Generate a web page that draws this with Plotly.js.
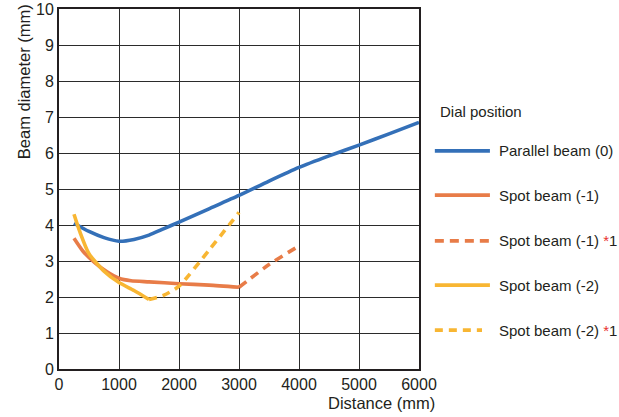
<!DOCTYPE html>
<html><head><meta charset="utf-8">
<script src="https://cdn.plot.ly/plotly-3.0.1.min.js"></script>
<style>body{margin:0;background:#fff}#c{width:619px;height:417px}</style>
</head><body><div id="c"></div>
<script>
const parallelX = [250, 500, 750, 1000, 1250, 1500, 1750, 2000, 2500, 3000, 3500, 4000, 4500, 5000, 5500, 6000];
const parallelY = [4.05, 3.82, 3.65, 3.55, 3.6, 3.72, 3.9, 4.08, 4.45, 4.82, 5.22, 5.6, 5.92, 6.22, 6.53, 6.85];
const spot1X = [250, 400, 600, 800, 1000, 1200, 1500, 2000, 2500, 3000];
const spot1Y = [3.63, 3.27, 2.95, 2.7, 2.52, 2.45, 2.42, 2.37, 2.33, 2.27];
const spot1ExtX = [3000, 3500, 4000];
const spot1ExtY = [2.27, 2.9, 3.42];
const spot2X = [250, 350, 500, 750, 1000, 1250, 1500];
const spot2Y = [4.3, 3.8, 3.2, 2.72, 2.4, 2.18, 1.93];
const spot2ExtX = [1500, 1750, 2000, 2500, 3000];
const spot2ExtY = [1.93, 2.05, 2.3, 3.3, 4.35];
const xTicks = [0, 1000, 2000, 3000, 4000, 5000, 6000];
const yTicks = [0, 1, 2, 3, 4, 5, 6, 7, 8, 9, 10];
const legendTitle = "Dial position";
const seriesNames = ["Parallel beam (0)", "Spot beam (-1)", "Spot beam (-1) <span style='color:#e8322f'>*</span>1", "Spot beam (-2)", "Spot beam (-2) <span style='color:#e8322f'>*</span>1"];

const BLUE = "#3470b8", ORANGE = "#e87c48", YELLOW = "#f8b633";
const colors = [BLUE, ORANGE, ORANGE, YELLOW, YELLOW];
const dashes = ["solid", "solid", "9px,6px", "solid", "8px,6px"];

const traces = [
  {x: parallelX, y: parallelY},
  {x: spot1X, y: spot1Y},
  {x: spot1ExtX, y: spot1ExtY},
  {x: spot2X, y: spot2Y},
  {x: spot2ExtX, y: spot2ExtY}
].map((t, i) => ({
  x: t.x, y: t.y, type: "scatter", mode: "lines", name: seriesNames[i],
  line: {color: colors[i], width: 3.6, dash: dashes[i], shape: "spline", smoothing: 0.6},
  showlegend: false
}));

const rowY = [0.606, 0.483, 0.356, 0.233, 0.108];
const shapes = rowY.map((y, i) => ({
  type: "line", xref: "paper", yref: "paper", x0: 1.044, x1: i === 4 ? 1.175 : 1.197, y0: y, y1: y,
  line: {color: colors[i], width: 3.8, dash: dashes[i]}
}));
const FAM = "Liberation Sans, Arial, sans-serif";
const font = {family: FAM, size: 15, color: "#231f20"};
const tickFont = {family: FAM, size: 16, color: "#231f20"};
const titleFont = {family: FAM, size: 16.5, color: "#231f20"};
const annotations = rowY.map((y, i) => ({
  xref: "paper", yref: "paper", x: 1.22, y: y, xanchor: "left", yanchor: "middle",
  text: seriesNames[i], showarrow: false, font: font, borderpad: 0
}));
annotations.push({xref: "paper", yref: "paper", x: 1.053, y: 0.714, xanchor: "left", yanchor: "middle",
  text: legendTitle, showarrow: false, font: font});
annotations.push({xref: "paper", yref: "paper", x: 0.897, y: -0.094, xanchor: "center", yanchor: "middle",
  text: "Distance (mm)", showarrow: false, font: titleFont});
annotations.push({xref: "paper", yref: "paper", x: -0.097, y: 0.797, xanchor: "center", yanchor: "middle",
  text: "Beam diameter (mm)", textangle: -90, showarrow: false, font: titleFont});

const layout = {
  width: 619, height: 417,
  margin: {l: 59, r: 200, t: 9, b: 48},
  paper_bgcolor: "#fff", plot_bgcolor: "#fff",
  font: font,
  showlegend: false,
  xaxis: {range: [0, 6000], tickvals: xTicks, ticktext: xTicks.map(String), showgrid: true,
    gridcolor: "#2b2b2b", gridwidth: 1, showline: true, linecolor: "#231f20", linewidth: 2, mirror: true,
    ticks: "", zeroline: false, tickfont: tickFont},
  yaxis: {range: [0, 10], tickvals: yTicks, ticktext: yTicks.map(String), showgrid: true,
    gridcolor: "#2b2b2b", gridwidth: 1, showline: true, linecolor: "#231f20", linewidth: 2, mirror: true,
    ticks: "", zeroline: false, tickfont: tickFont},
  shapes: shapes,
  annotations: annotations
};
Plotly.newPlot("c", traces, layout, {displayModeBar: false, staticPlot: true});
</script>
</body></html>
